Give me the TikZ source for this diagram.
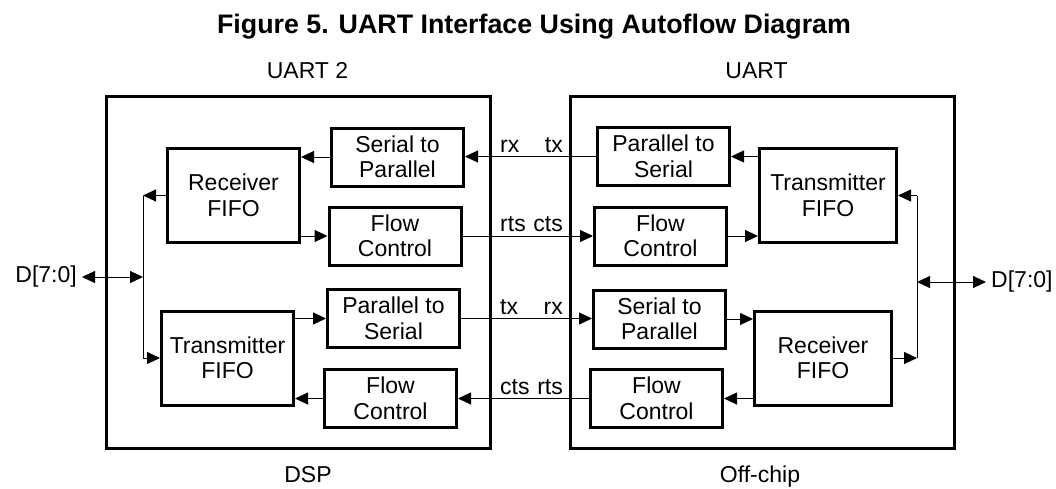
\documentclass[tikz,border=0pt]{standalone}
\usepackage{fontspec}
\setmainfont{Liberation Sans}
\usetikzlibrary{arrows.meta}

\begin{document}
\begin{tikzpicture}[x=1pt, y=-1pt,
	blk/.style={draw, line width=3pt, minimum width=132pt, minimum height=58pt, align=center, inner sep=0pt, font=\fontsize{23}{25.5}\selectfont},
	fifo/.style={blk, minimum height=94pt},
	chip/.style={draw, line width=3pt, minimum width=384pt, minimum height=352pt, inner sep=0pt},
	sig/.style={inner sep=0pt, font=\fontsize{23}{25.5}\selectfont},
	wire/.style={line width=1pt, -{Triangle[length=13pt,width=12pt]}},
	dwire/.style={line width=1pt, {Triangle[length=13pt,width=12pt]}-{Triangle[length=13pt,width=12pt]}},
	bus/.style={line width=1pt}]
	\useasboundingbox (0, 0) rectangle (1056, 488);

	\node[font=\bfseries\fontsize{26.8}{30}\selectfont, anchor=base] (title) at (534, 33) {Figure 5. UART Interface Using Autoflow Diagram};
	\node[sig, anchor=base] (uart2) at (307.5, 78) {UART 2};
	\node[sig, anchor=base] (uart) at (756.5, 78) {UART};
	\node[sig, anchor=base] (dspname) at (308, 482) {DSP};
	\node[sig, anchor=base] (offname) at (760, 482) {Off-chip};

	\node[chip] (dsp) at (298.5, 272.5) {};
	\node[chip] (off) at (762.5, 272.5) {};

	% DSP side
	\node[fifo] (rxL) at (233.5, 195.5) {Receiver\\FIFO};
	\node[fifo] (txL) at (227.5, 358) {Transmitter\\FIFO};
	\node[blk] (spL) at (397.5, 157) {Serial to\\Parallel};
	\node[blk] (fcaL) at (395, 236) {Flow\\Control};
	\node[blk] (psL) at (393.5, 318.5) {Parallel to\\Serial};
	\node[blk] (fcbL) at (390.5, 398.5) {Flow\\Control};

	% off-chip side
	\node[blk] (psR) at (663.5, 156.5) {Parallel to\\Serial};
	\node[blk] (fcaR) at (660.5, 236) {Flow\\Control};
	\node[blk] (spR) at (659.5, 319) {Serial to\\Parallel};
	\node[blk] (fcbR) at (656.5, 398.5) {Flow\\Control};
	\node[fifo, minimum width=137pt] (txR) at (828, 195.5) {Transmitter\\FIFO};
	\node[fifo, minimum width=137pt] (rxR) at (823, 358) {Receiver\\FIFO};

	\coordinate (busL) at (143, 277);
	\coordinate (busR) at (917, 282);
	\node[sig, anchor=east, inner xsep=5pt] (dL) at (82, 277) {D[7:0]};
	\node[sig, anchor=west, inner xsep=5pt] (dR) at (986, 282) {D[7:0]};

	\draw[bus] (rxL.west -| busL) -- (txL.west -| busL);
	\draw[bus] (txR.east -| busR) -- (rxR.east -| busR);
	\draw[dwire] (dL.east) -- (busL);
	\draw[dwire] (busR) -- (dR.west);
	\draw[wire] (rxL.west) -- (rxL.west -| busL);
	\draw[wire] (txL.west -| busL) -- (txL.west);
	\draw[wire] (txR.east -| busR) -- (txR.east);
	\draw[wire] (rxR.east) -- (rxR.east -| busR);

	\draw[wire] (spL.west) -- (spL.west -| rxL.east);
	\draw[wire] (rxL.east |- fcaL.west) -- (fcaL.west);
	\draw[wire] (txL.east |- psL.west) -- (psL.west);
	\draw[wire] (fcbL.west) -- (fcbL.west -| txL.east);

	\draw[wire] (txR.west |- psR.east) -- (psR.east);
	\draw[wire] (fcaR.east) -- (fcaR.east -| txR.west);
	\draw[wire] (spR.east) -- (spR.east -| rxR.west);
	\draw[wire] (rxR.west |- fcbR.east) -- (fcbR.east);

	% between the chips
	\draw[wire] (psR.west) -- (psR.west -| spL.east);
	\draw[wire] (fcaL.east) -- (fcaL.east -| fcaR.west);
	\draw[wire] (psL.east) -- (psL.east -| spR.west);
	\draw[wire] (fcbR.west) -- (fcbR.west -| fcbL.east);

	\node[sig, anchor=base west] (rx1) at (500, 152) {rx};
	\node[sig, anchor=base east] (tx1) at (563, 152) {tx};
	\node[sig, anchor=base west] (rts1) at (500, 231.5) {rts};
	\node[sig, anchor=base east] (cts1) at (563, 231.5) {cts};
	\node[sig, anchor=base west] (tx2) at (500, 314.5) {tx};
	\node[sig, anchor=base east] (rx2) at (563, 314.5) {rx};
	\node[sig, anchor=base west] (cts2) at (500, 394) {cts};
	\node[sig, anchor=base east] (rts2) at (563, 394) {rts};

\end{tikzpicture}
\end{document}
